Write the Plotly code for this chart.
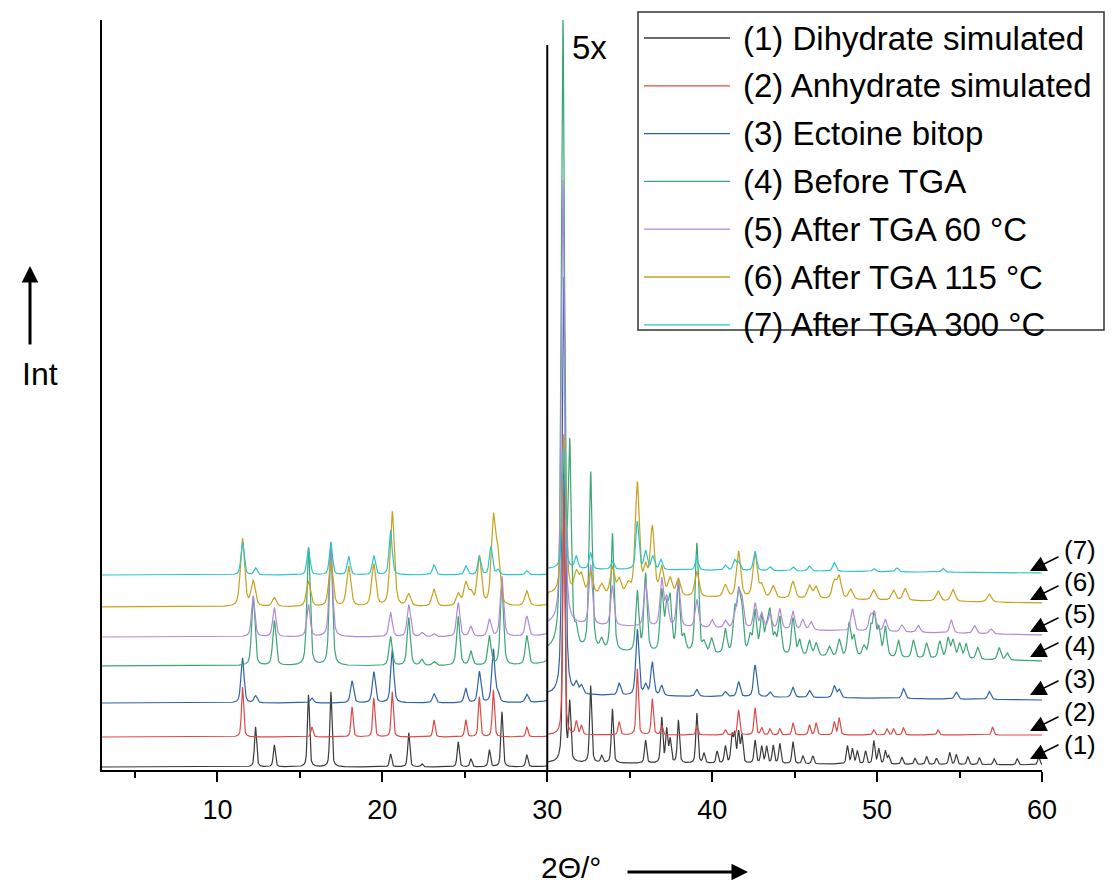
import numpy as np
import plotly.graph_objects as go

# ---------------- data (peak positions in 2θ/°, displayed intensities) ----------------
names = ["(1) Dihydrate simulated", "(2) Anhydrate simulated", "(3) Ectoine bitop",
         "(4) Before TGA", "(5) After TGA 60 °C", "(6) After TGA 115 °C", "(7) After TGA 300 °C"]
short_labels = ["(1)", "(2)", "(3)", "(4)", "(5)", "(6)", "(7)"]

s1_pos = [12.31, 13.45, 15.52, 16.88, 20.5, 21.6, 22.4, 24.6, 25.37, 26.49, 27.25, 28.76, 31.0, 31.36,
          32.63, 33.3, 33.95, 35.96, 36.94, 37.24, 37.45, 37.95, 39.07, 39.5, 40.3, 40.8, 41.2, 41.36,
          41.6, 41.8, 42.6, 43.0, 43.3, 43.7, 44.1, 44.9, 45.5, 46.1, 48.2, 48.5, 48.8, 49.3, 49.8, 50.1,
          50.5, 50.7, 51.5, 52.3, 53.0, 53.6, 54.4, 54.8, 55.5, 56.2, 57.1, 58.5, 59.8]
s1_int = [40, 22, 72, 75, 13, 34, 3, 25, 8, 17, 55, 12, 300, 57,
          77, 7, 54, 23, 45, 33, 23, 43, 50, 10, 12, 17, 27, 28,
          30, 27, 23, 17, 17, 18, 20, 22, 8, 8, 18, 15, 13, 13, 23, 15,
          13, 8, 7, 6, 8, 6, 12, 10, 8, 7, 6, 6, 8]

s2_pos = [11.52, 15.73, 18.16, 19.48, 20.6, 23.13, 25.06, 25.88, 26.73, 28.76, 31.0, 31.76, 32.07, 34.36,
          35.46, 36.37, 36.94, 39.07, 40.8, 41.6, 42.6, 43.0, 43.5, 44.1, 44.9, 45.9, 46.3, 47.4, 47.7,
          49.8, 50.6, 51.0, 51.6, 53.7, 57.0]
s2_int = [50, 10, 30, 39, 45, 17, 17, 40, 47, 10, 256, 13, 9, 13,
          66, 36, 9, 9, 5, 25, 27, 7, 6, 6, 12, 10, 12, 13, 17,
          5, 6, 6, 7, 5, 8]

s3_pos = [11.52, 12.31, 15.73, 18.16, 19.48, 20.6, 23.13, 25.06, 25.88, 26.73, 27.0, 28.76, 31.0, 31.76,
          32.07, 34.36, 35.46, 35.96, 36.37, 36.94, 39.07, 40.8, 41.6, 42.6, 43.5, 44.9, 45.9, 47.4, 47.7,
          51.6, 54.8, 56.8]
s3_int = [45, 7, 5, 22, 31, 53, 9, 14, 31, 53, 9, 8, 418, 10,
          8, 12, 66, 10, 33, 10, 7, 5, 15, 32, 5, 10, 7, 12, 8,
          10, 7, 8]

s4_pos = [12.17, 13.45, 15.52, 16.88, 20.5, 21.6, 22.4, 23.13, 24.6, 25.37, 26.49, 27.25, 28.76, 30.95,
          31.36, 31.76, 32.63, 33.3, 33.95, 35.46, 35.96, 36.94, 37.24, 37.45, 37.95, 38.3, 39.07, 39.5,
          39.96, 40.8, 41.36, 41.6, 41.8, 42.3, 42.6, 43.0, 43.3, 43.5, 43.8, 44.1, 44.9, 45.3, 45.9, 46.3,
          47.1, 47.7, 48.3, 48.6, 49.2, 49.6, 49.83, 50.1, 50.5, 51.3, 52.2, 53.0, 53.8, 54.3, 54.6, 55.0,
          55.4, 56.1, 57.4, 57.9]
s4_int = [70, 45, 118, 123, 29, 48, 6, 4, 49, 14, 29, 80, 29, 625,
          190, 15, 178, 10, 118, 60, 78, 60, 40, 50, 70, 15, 110, 10,
          15, 24, 42, 55, 40, 17, 42, 37, 23, 40, 17, 37, 37, 15, 15, 13,
          10, 17, 33, 20, 10, 27, 40, 27, 30, 17, 18, 15, 17, 20, 18, 15,
          15, 12, 12, 7]

s5_pos = [12.17, 13.45, 15.52, 16.88, 20.5, 21.6, 22.4, 23.13, 24.6, 25.37, 26.49, 27.25, 28.76, 30.95,
          32.63, 33.95, 35.96, 36.94, 37.24, 37.95, 39.07, 40.0, 40.8, 41.36, 41.6, 41.8, 42.6, 43.0, 43.5,
          44.1, 44.9, 45.5, 46.0, 48.5, 49.6, 49.83, 50.5, 51.5, 52.5, 54.5, 55.9, 56.9]
s5_int = [40, 29, 32, 95, 24, 32, 4, 3, 34, 10, 17, 60, 20, 445,
          60, 40, 44, 47, 28, 48, 28, 8, 7, 10, 33, 27, 25, 15, 15,
          20, 18, 10, 8, 22, 15, 18, 12, 7, 7, 13, 8, 5]

s6_pos = [11.52, 12.17, 13.45, 15.52, 16.88, 17.96, 19.48, 20.6, 21.6, 23.13, 24.6, 25.06, 25.37, 25.88,
          26.73, 27.0, 28.76, 31.0, 31.76, 32.07, 32.63, 33.3, 33.95, 34.36, 34.9, 35.46, 35.96, 36.37,
          36.94, 37.45, 37.95, 39.07, 40.8, 41.6, 42.6, 43.0, 43.7, 44.9, 45.9, 46.3, 47.4, 47.7, 48.4,
          49.8, 51.0, 51.7, 53.7, 54.6, 56.8]
s6_int = [68, 25, 9, 25, 45, 40, 42, 95, 12, 17, 12, 22, 12, 49,
          84, 47, 15, 160, 20, 18, 22, 10, 27, 15, 10, 112, 25, 67,
          27, 17, 17, 25, 12, 46, 45, 12, 12, 17, 13, 12, 17, 22, 10,
          10, 10, 12, 10, 12, 8]

s7_pos = [11.52, 12.31, 15.52, 16.88, 17.96, 19.48, 20.5, 23.13, 25.06, 25.88, 26.58, 27.0, 28.76, 31.0,
          31.76, 32.63, 33.95, 35.46, 35.96, 36.4, 36.9, 39.07, 40.8, 41.36, 41.6, 42.6, 43.5, 44.9, 45.9,
          47.4, 49.8, 51.2, 54.0]
s7_int = [33, 7, 27, 32, 18, 19, 45, 10, 9, 18, 28, 5, 4, 120,
          12, 16, 8, 48, 18, 13, 10, 12, 5, 10, 8, 19, 4, 4, 5,
          9, 3, 4, 4]

# background of the 5x segment (30-60°): value at 30° and at 60°
bg_start = [4, 2, 8, 14, 12, 12, 6]
bg_end = [2, 2, 3, 5, 2, 4, 2]

# ---------------- styling ----------------
colors = ["#3a3a3a", "#dc4a48", "#2f63a8", "#3aa672", "#b08ad8", "#c8a11c", "#2cc3c9"]
offsets = [3, 33, 67, 104, 133, 163, 195]      # vertical stacking offsets
hwhm = [0.075, 0.075, 0.11, 0.115, 0.12, 0.15, 0.11]

FONT = "Liberation Sans, Arial, sans-serif"

# page has an 8 px body margin; the figure fits the window without scrolling
PAGE_OFF = 8
W, H = 1097, 877
L, R, T, B = 94, 63, 12, 115
PW, PH = W - L - R, H - T - B
X0, X1 = 3, 60
Y0, Y1 = 0, 750
PLOT_LEFT = PAGE_OFF + L          # page px
PLOT_BOTTOM = PAGE_OFF + H - B    # page px


def px2paper(px):
    return (px - PLOT_LEFT) / PW


def py2paper(py):
    return (PLOT_BOTTOM - py) / PH


def px2x(px):
    return X0 + (px - PLOT_LEFT) / PW * (X1 - X0)


def py2y(py):
    return Y0 + (PLOT_BOTTOM - py) / PH * (Y1 - Y0)


x = np.round(np.arange(3.0, 60.0001, 0.01), 3)


def pattern(pos, inten, w, off, b0, b1):
    y = np.full_like(x, float(off))
    for c, h in zip(pos, inten):
        t = (x - c) / w
        y += h * (0.5 / (1 + t * t) + 0.5 * np.exp(-np.log(2) * t * t))
    right = x > 30
    y[right] += b0 + (b1 - b0) * (x[right] - 30) / 30
    return y


series = [(s1_pos, s1_int), (s2_pos, s2_int), (s3_pos, s3_int), (s4_pos, s4_int),
          (s5_pos, s5_int), (s6_pos, s6_int), (s7_pos, s7_int)]

fig = go.Figure()
for i, (p, it) in enumerate(series):
    fig.add_trace(go.Scatter(x=x, y=pattern(p, it, hwhm[i], offsets[i], bg_start[i], bg_end[i]),
                             mode="lines", name=names[i],
                             line=dict(color=colors[i], width=1.2), showlegend=False))

shapes = []
annotations = []

# vertical separator at 30° and "5x"
shapes.append(dict(type="line", xref="x", yref="y", x0=30, x1=30, y0=0, y1=py2y(45),
                   line=dict(color="black", width=2)))
annotations.append(dict(xref="x", yref="y", x=px2x(589), y=py2y(47), text="5x", showarrow=False,
                        font=dict(family=FONT, size=33, color="black"), xanchor="center", yanchor="middle"))

# manual legend
shapes.append(dict(type="rect", xref="paper", yref="paper", x0=px2paper(638), x1=px2paper(1104),
                   y0=py2paper(330), y1=py2paper(12), line=dict(color="#333333", width=1.5),
                   fillcolor="white", layer="above"))
for i, nm in enumerate(names):
    yy = py2paper(38 + 47.8 * i)
    shapes.append(dict(type="line", xref="paper", yref="paper", x0=px2paper(644), x1=px2paper(730),
                       y0=yy, y1=yy, line=dict(color=colors[i], width=1.3), layer="above"))
    annotations.append(dict(xref="paper", yref="paper", x=px2paper(741), y=yy, text=nm, showarrow=False,
                            xanchor="left", yanchor="middle",
                            font=dict(family=FONT, size=33, color="black")))

# right-hand labels with arrows
label_py = [745, 712, 679, 646, 614, 582, 550]
head_py = [759, 731, 695, 657, 632, 600, 571]
for i in range(7):
    annotations.append(dict(xref="paper", yref="paper", x=px2paper(1080), y=py2paper(label_py[i]),
                            text=short_labels[i], showarrow=False, xanchor="center", yanchor="middle",
                            font=dict(family=FONT, size=26, color="black")))
    annotations.append(dict(xref="x", yref="y", x=px2x(1030), y=py2y(head_py[i]), text="",
                            showarrow=True, ax=30, ay=-15, arrowhead=2, arrowsize=2.0,
                            arrowwidth=1.6, arrowcolor="black"))

# Int label with arrow
annotations.append(dict(xref="paper", yref="paper", x=px2paper(40), y=py2paper(374), text="Int",
                        showarrow=False, xanchor="center", yanchor="middle",
                        font=dict(family=FONT, size=32, color="black")))
annotations.append(dict(xref="paper", yref="paper", x=px2paper(30), y=py2paper(266), text="",
                        showarrow=True, ax=0, ay=80, arrowhead=2, arrowsize=1.1, arrowwidth=3,
                        arrowcolor="black"))
# x-axis title and its arrow
annotations.append(dict(xref="paper", yref="paper", x=px2paper(571), y=py2paper(867), text="2Θ/°",
                        showarrow=False, xanchor="center", yanchor="middle",
                        font=dict(family=FONT, size=30, color="black")))
annotations.append(dict(xref="paper", yref="paper", x=px2paper(748), y=py2paper(872), text="",
                        showarrow=True, ax=-122, ay=0, arrowhead=2, arrowsize=1.1, arrowwidth=3,
                        arrowcolor="black"))

fig.update_layout(
    width=W, height=H,
    margin=dict(l=L, r=R, t=T, b=B, pad=0, autoexpand=False),
    paper_bgcolor="white", plot_bgcolor="white",
    shapes=shapes, annotations=annotations,
    showlegend=False,
    xaxis=dict(range=[X0, X1], tick0=0, dtick=10, ticks="outside", ticklen=10, tickwidth=2,
               tickcolor="black", showline=True, linewidth=2, linecolor="black", showgrid=False,
               zeroline=False, tickfont=dict(family=FONT, size=27, color="black"), automargin=False,
               ticklabelstandoff=5,
               minor=dict(ticks="outside", tick0=0, dtick=5, ticklen=6, tickwidth=2, tickcolor="black",
                          showgrid=False)),
    yaxis=dict(range=[Y0, Y1], showline=True, linewidth=2, linecolor="black", showticklabels=False,
               ticks="", showgrid=False, zeroline=False, automargin=False),
)

fig.write_html("out.html")
